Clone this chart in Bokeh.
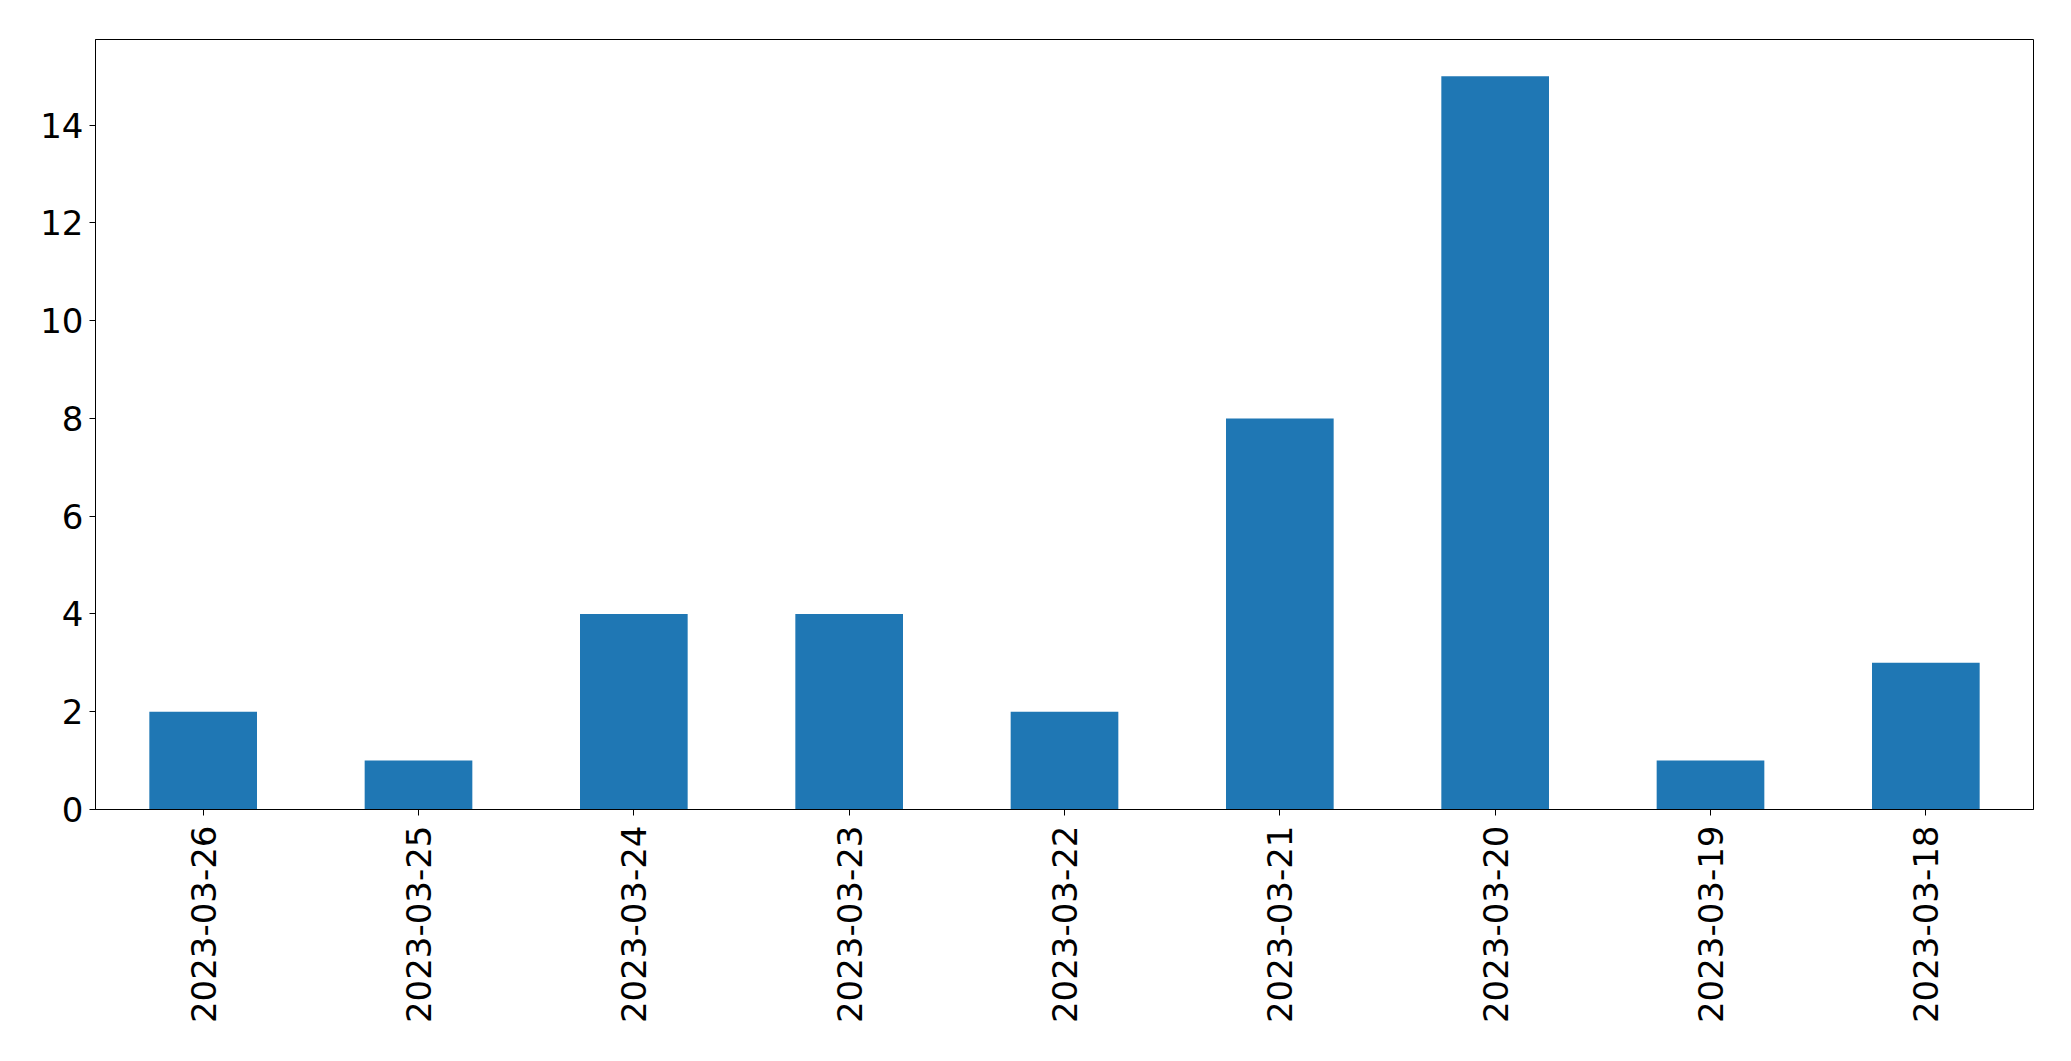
import math
from bokeh.plotting import figure
from bokeh.models import FactorRange, Range1d, FixedTicker, ColumnDataSource
from bokeh.embed import file_html
from bokeh.resources import INLINE

dates = ["2023-03-26", "2023-03-25", "2023-03-24", "2023-03-23", "2023-03-22",
         "2023-03-21", "2023-03-20", "2023-03-19", "2023-03-18"]
counts = [2, 1, 4, 4, 2, 8, 15, 1, 3]
y_ticks = [0, 2, 4, 6, 8, 10, 12, 14]

src = ColumnDataSource(data=dict(date=dates, count=counts))

p = figure(
    x_range=FactorRange(*dates),
    y_range=Range1d(0, max(counts) * 1.05),
    width=2063, height=1053,
    output_backend="svg", toolbar_location=None,
    min_border_left=95, min_border_right=30, min_border_top=39, min_border_bottom=244,
)

p.vbar(x="date", top="count", width=0.5, source=src, color="#1f77b4", line_color=None)

p.xgrid.grid_line_color = None
p.ygrid.grid_line_color = None
p.outline_line_color = "black"
p.outline_line_width = 1
p.outline_line_alpha = 1.0

p.yaxis.ticker = FixedTicker(ticks=y_ticks)
p.yaxis.minor_tick_line_color = None

for ax in (p.xaxis[0], p.yaxis[0]):
    ax.axis_line_color = "black"
    ax.axis_line_width = 1
    ax.major_tick_line_color = "black"
    ax.major_tick_line_width = 1
    ax.major_tick_out = 6
    ax.major_tick_in = 0
    ax.major_label_text_font = "DejaVu Sans"
    ax.major_label_text_font_size = "34px"
    ax.major_label_text_color = "black"

p.yaxis.major_label_standoff = 6
p.xaxis.major_label_standoff = 10
p.xaxis.major_label_orientation = math.pi / 2

open("out.html", "w").write(file_html(p, INLINE))
